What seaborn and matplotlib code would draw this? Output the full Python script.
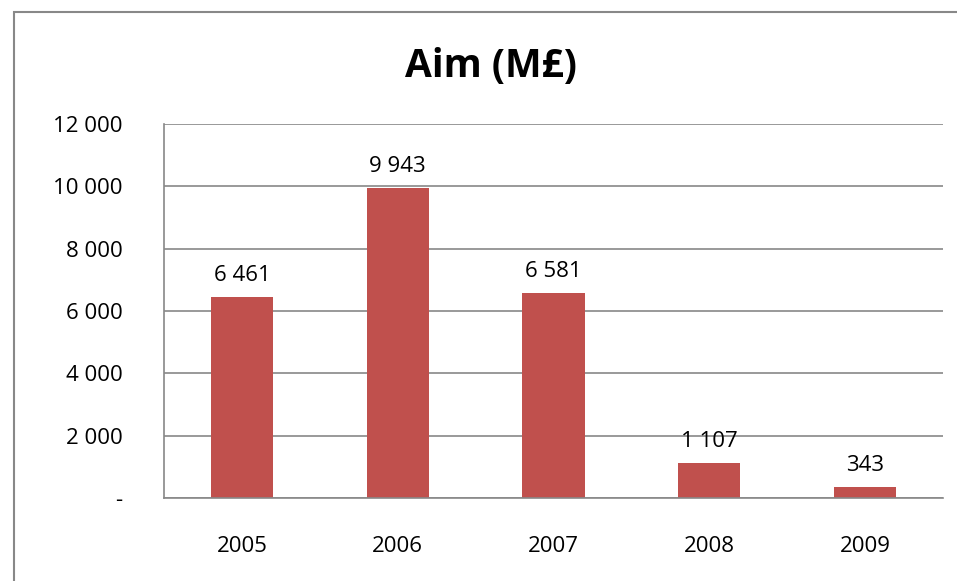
import matplotlib
matplotlib.use("Agg")
import matplotlib.pyplot as plt
import seaborn as sns
import pandas as pd
from matplotlib.patches import Rectangle
from matplotlib.ticker import FuncFormatter

# Data
years = ["2005", "2006", "2007", "2008", "2009"]
values = [6461, 9943, 6581, 1107, 343]
y_ticks = [0, 2000, 4000, 6000, 8000, 10000, 12000]

df = pd.DataFrame({"year": years, "value": values})

sns.set_style("white")
plt.rcParams["font.family"] = ["Open Sans", "DejaVu Sans"]
plt.rcParams["text.color"] = "black"
plt.rcParams["xtick.color"] = "black"
plt.rcParams["ytick.color"] = "black"

bar_color = "#C0504D"
line_color = "#888888"


def fmt_num(v, pos=None):
    if v == 0:
        return "-"
    return f"{int(round(v)):,}".replace(",", " ")


fig = plt.figure(figsize=(9.57, 5.81), dpi=100)
ax = fig.add_axes([164 / 957, 1 - 498 / 581, (943 - 164) / 957, (498 - 124) / 581])

sns.barplot(data=df, x="year", y="value", color=bar_color, width=0.4,
            saturation=1, ax=ax, zorder=3, linewidth=0)

ax.set_ylim(0, 12000)
ax.set_xlim(-0.5, len(years) - 0.5)
ax.set_yticks(y_ticks)
ax.yaxis.set_major_formatter(FuncFormatter(fmt_num))

# category boundary ticks, labels at centres
ax.set_xticks([i - 0.5 for i in range(len(years) + 1)])
ax.set_xticklabels([])
ax.set_xticks(range(len(years)), minor=True)
ax.set_xticklabels(years, minor=True)
ax.tick_params(axis="x", which="major", length=7, width=1.2, color=line_color, direction="out")
ax.tick_params(axis="x", which="minor", length=0, pad=27, labelsize=16, labelcolor="black")
ax.tick_params(axis="y", length=5, width=1.2, color=line_color, direction="out", pad=25,
               labelsize=16, labelcolor="black")

ax.grid(axis="y", color=line_color, linewidth=1.2, zorder=0)
ax.grid(axis="x", visible=False)
for side in ["top", "right"]:
    ax.spines[side].set_visible(False)
for side in ["left", "bottom"]:
    ax.spines[side].set_color(line_color)
    ax.spines[side].set_linewidth(1.2)
    ax.spines[side].set_zorder(4)

ax.set_xlabel("")
ax.set_ylabel("")

for i, v in enumerate(values):
    ax.annotate(fmt_num(v), (i, v), xytext=(0, 8), textcoords="offset points",
                ha="center", va="bottom", fontsize=16, color="black")

fig.text(491 / 957, 1 - 66 / 581, "Aim (M£)", ha="center", va="center",
         fontsize=28, fontweight="bold", color="black")

# chart area border (left and top edges visible)
fig.add_artist(Rectangle((14 / 957, -0.2), 1.5, 1.2 - 12 / 581,
                         transform=fig.transFigure, fill=False,
                         edgecolor=line_color, linewidth=1.5))

fig.savefig("out.png", dpi=100)
